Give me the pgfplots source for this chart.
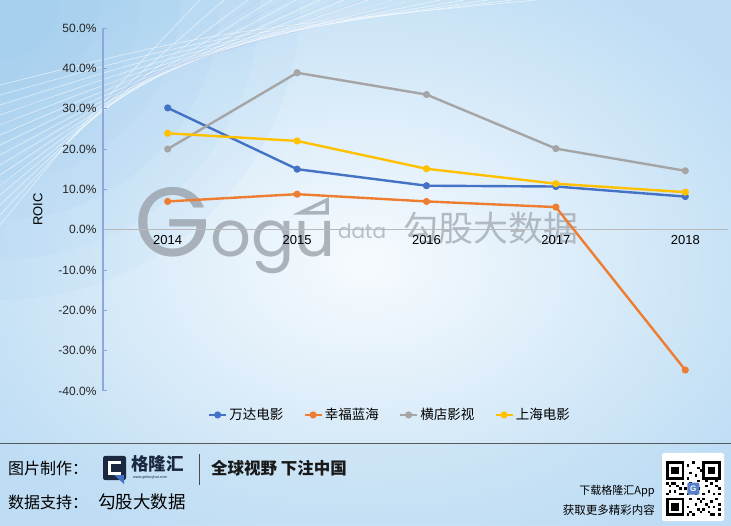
\documentclass[border=0pt]{standalone}
\usepackage{fontspec}
\setmainfont{Liberation Sans}
\newfontfamily\cjk{Noto Sans CJK SC}
\newfontfamily\pop{Poppins}
\usepackage{pgfplots}
\pgfplotsset{compat=1.18}

\definecolor{wdblue}{HTML}{4472C4}
\definecolor{xforange}{HTML}{ED7D31}
\definecolor{hdgray}{HTML}{A5A5A5}
\definecolor{shyellow}{HTML}{FFC000}
\definecolor{bginner}{HTML}{F7FBFE}
\definecolor{bgouter}{HTML}{BEDDF4}
\definecolor{cornerblue}{HTML}{8CC2EE}
\definecolor{wmgray}{HTML}{9AA2AB}
\definecolor{axisblue}{HTML}{8EA6DC}
\definecolor{navy}{HTML}{1B2940}

\begin{document}
\begin{tikzpicture}[x=1pt,y=1pt]
\useasboundingbox (0,0) rectangle (731,525);
% background
\shade[inner color=bginner, outer color=bgouter] (-80,-60) rectangle (811,585);
\foreach \r in {300,260,220,180,140,100,60} {
  \fill[cornerblue, opacity=0.07] (0,525) circle ({\r});
}
\foreach \i in {0,...,14} {
  \draw[white, opacity=0.55, line width=0.7pt]
    (0,{300+\i*10}) .. controls ({90+\i*9},{410+\i*6}) .. ({200+\i*24},525);
}
\foreach \i in {0,...,6} {
  \draw[axisblue!70, opacity=0.3, line width=0.6pt]
    (0,{340+\i*12}) .. controls ({110+\i*10},{430+\i*5}) .. ({260+\i*26},525);
}
\fill[bgouter, opacity=0.35] (0,0) rectangle (731,82);

% watermark
\begin{scope}[opacity=0.8]
\node[anchor=base west, text=wmgray, inner sep=0] at (134,268)
  {\pop\fontsize{98}{98}\selectfont G};
\node[anchor=base west, text=wmgray, inner sep=0] at (210,268)
  {\pop\fontsize{64}{64}\selectfont ogu};
\draw[wmgray, line width=3.5pt, line join=miter] (300,312) -- (327,325) -- (327,312) -- cycle;
\node[anchor=base west, text=wmgray!85, inner sep=0] at (338,286)
  {\pop\fontsize{20}{20}\selectfont data};
\node[anchor=center, text=wmgray!90, inner sep=0] at (491,297)
  {\cjk\fontsize{35}{35}\selectfont 勾股大数据};
\end{scope}

\begin{axis}[
    at={(103pt,134pt)}, anchor=south west,
    scale only axis, width=625pt, height=363pt,
    xmin=-0.5, xmax=4.33, ymin=-40, ymax=50,
    axis x line=middle, axis y line=left,
    x axis line style={draw=gray!55, line width=0.8pt, -},
    y axis line style={draw=axisblue, line width=1.4pt, -},
    xtick={0,...,4}, xticklabels={2014,2015,2016,2017,2018},
    xtick style={draw=none},
    x tick label style={font=\fontsize{13}{13}\selectfont, text=black, yshift=-2pt},
    ytick={-40,-30,...,50},
    tick align=inside, major tick length=4pt,
    ytick style={draw=axisblue, line width=1pt},
    yticklabel={\pgfmathprintnumber[fixed,fixed zerofill,precision=1]{\tick}\%},
    y tick label style={font=\fontsize{12}{12}\selectfont, text=black!85, xshift=-3pt},
    /pgf/number format/assume math mode=true,
    ylabel={ROIC},
    ylabel style={at={(rel axis cs:-0.104,0.5)}, anchor=center, rotate=0,
      font=\fontsize{13}{13}\selectfont},
    legend columns=4,
    legend style={at={(rel axis cs:0.459,-0.066)}, anchor=center,
      draw=none, fill=none, font=\cjk\fontsize{13.5}{15}\selectfont,
      /tikz/every even column/.append style={column sep=18pt}},
    every axis plot/.append style={line width=2.4pt, mark=*, mark size=2.3pt},
  ]
  \addplot[color=wdblue] coordinates {(0,30.2) (1,15.0) (2,10.9) (3,10.7) (4,8.2)};
  \addlegendentry{万达电影}
  \addplot[color=xforange] coordinates {(0,7.0) (1,8.8) (2,7.0) (3,5.6) (4,-34.8)};
  \addlegendentry{幸福蓝海}
  \addplot[color=hdgray] coordinates {(0,20.0) (1,38.9) (2,33.5) (3,20.1) (4,14.6)};
  \addlegendentry{横店影视}
  \addplot[color=shyellow] coordinates {(0,23.9) (1,22.0) (2,15.1) (3,11.4) (4,9.3)};
  \addlegendentry{上海电影}
\end{axis}

% footer
\draw[black!65, line width=0.9pt] (0,82) -- (731,82);
\node[anchor=west, inner sep=0] at (8,57) {\cjk\fontsize{16}{16}\selectfont 图片制作：};
\node[anchor=west, inner sep=0] at (8,23) {\cjk\fontsize{16}{16}\selectfont 数据支持：};
\node[anchor=west, inner sep=0] at (98,23) {\cjk\fontsize{17.5}{18}\selectfont 勾股大数据};
% logo
\fill[navy, rounded corners=2pt] (103,45) rectangle (126,69);
\fill[white] (108,50) rectangle (121,64);
\fill[navy] (111,53) rectangle (126,61);
\fill[wdblue] (114,50) -- (124,50) -- (124,41) -- cycle;
\node[anchor=west, inner sep=0, text=navy] at (131,61)
  {\cjk\bfseries\fontsize{17.5}{18}\selectfont 格隆汇};
\node[anchor=west, inner sep=0, text=navy] at (133,47)
  {\fontsize{3.8}{4}\selectfont www.gelonghui.com};
\draw[black!70, line width=0.8pt] (199,40) -- (199,71);
\node[anchor=west, inner sep=0, text=black!90] at (211,57)
  {\cjk\bfseries\fontsize{16.5}{17}\selectfont 全球视野\ 下注中国};
\node[anchor=east, inner sep=0] at (655,34) {\cjk\fontsize{11}{11}\selectfont 下载格隆汇App};
\node[anchor=east, inner sep=0] at (655,15) {\cjk\fontsize{11.5}{12}\selectfont 获取更多精彩内容};
% QR code
\fill[white, rounded corners=2pt] (662,4) rectangle (724,72);
\begin{scope}[shift={(666,9)}, x=2.6pt, y=2.6pt]
  \foreach \px/\py in {0/0,0/14,14/14} {
    \fill[black] (\px,\py) rectangle ++(7,7);
    \fill[white] (\px+1,\py+1) rectangle ++(5,5);
    \fill[black] (\px+2,\py+2) rectangle ++(3,3);
  }
  \foreach \c/\r in {8/0,9/1,10/0,12/2,8/3,11/4,13/5,9/6,12/6,
      8/8,10/9,7/10,5/8,3/9,1/11,0/8,2/12,4/11,6/12,
      8/14,9/16,11/15,12/18,10/20,8/19,13/17,
      14/8,16/9,18/8,20/10,15/11,17/12,19/13,20/8,
      14/2,16/1,18/3,20/0,15/4,17/5,19/6,20/4,14/6,
      16/3,18/0,13/1,11/8,12/10,9/12,3/12,5/10,1/9,
      15/13,19/11,17/0,20/2,12/13,9/10,6/8,0/12}
    \fill[black] (\c,\r) rectangle ++(1,1);
  \fill[wdblue!90, rounded corners=1pt] (8.2,8.2) rectangle (12.8,12.8);
  \node[text=white, inner sep=0] at (10.5,10.5) {\bfseries\fontsize{8}{8}\selectfont G};
\end{scope}
\end{tikzpicture}
\end{document}
